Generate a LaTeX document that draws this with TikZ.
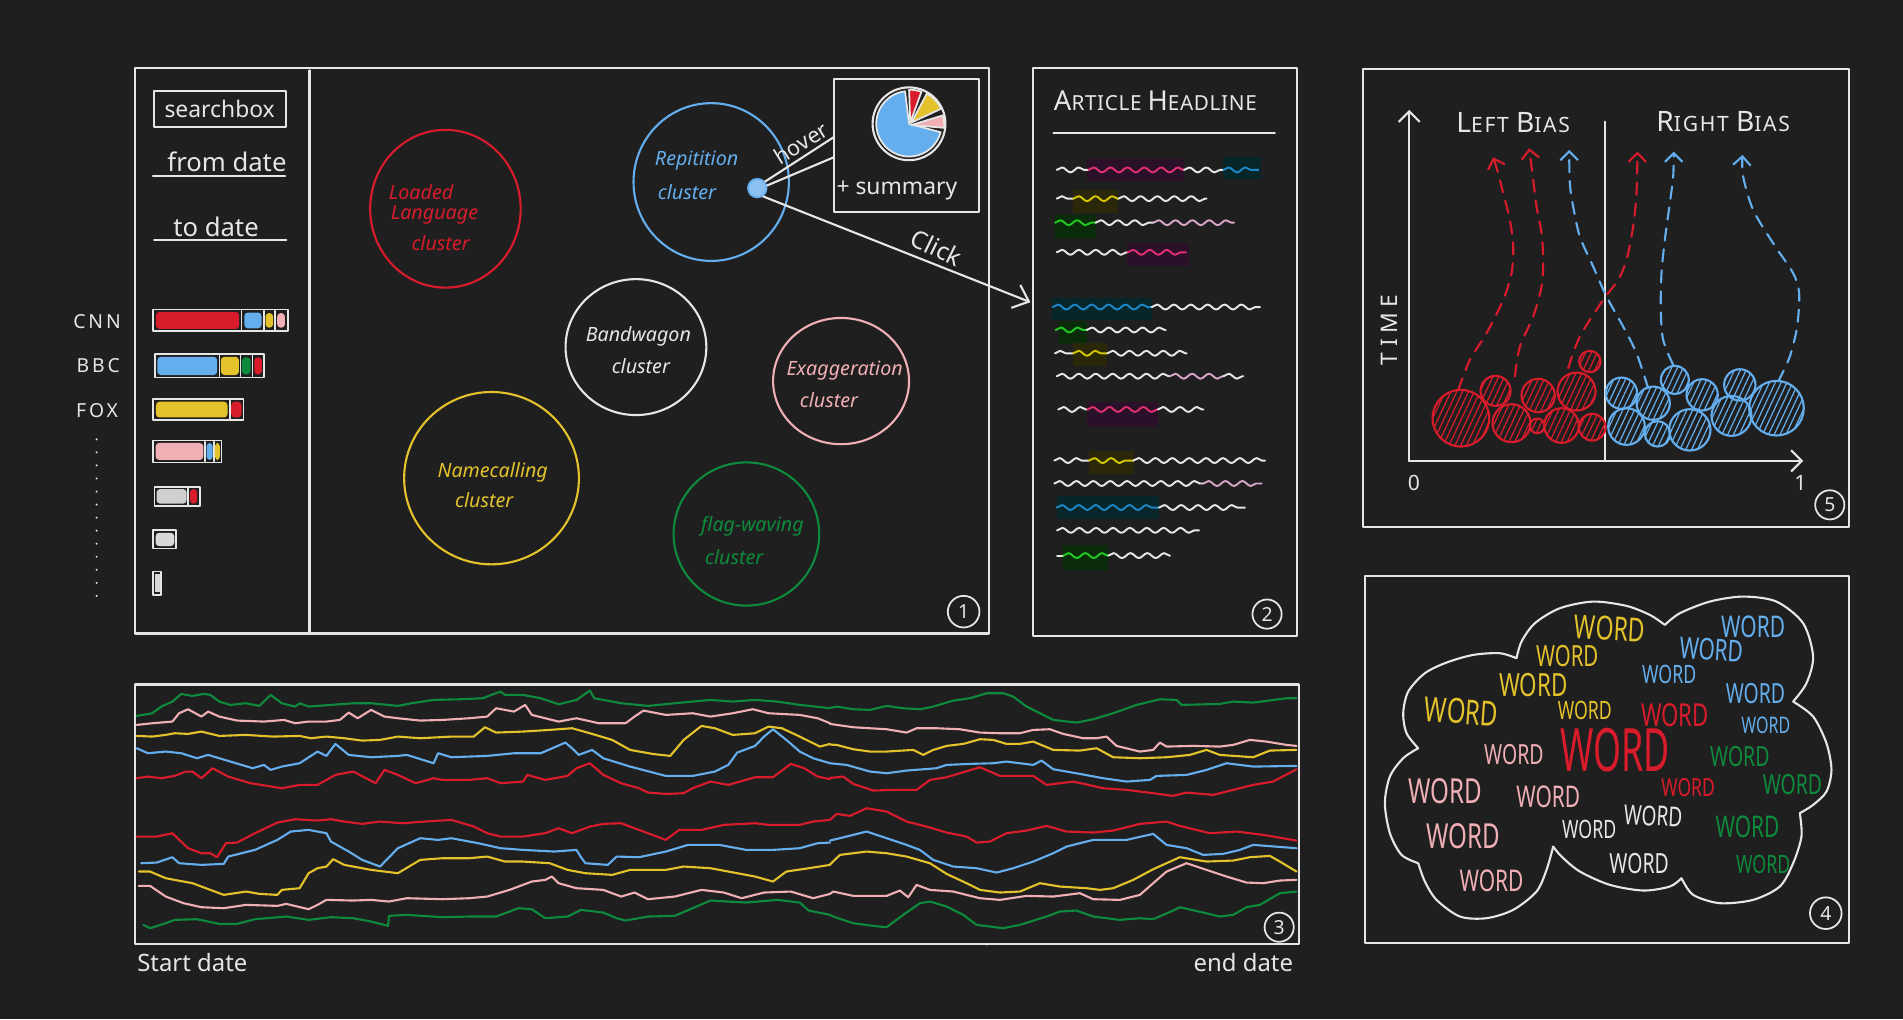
\documentclass[tikz,border=0pt]{standalone}
\usepackage{fontspec}
\setmainfont{Noto Sans}
\usepackage{graphicx}
\usetikzlibrary{arrows.meta,decorations.pathmorphing,patterns.meta}

\definecolor{bg}{HTML}{1F1F1F}
\definecolor{ink}{HTML}{E6E6E6}
\definecolor{cred}{HTML}{D91C2B}
\definecolor{cblue}{HTML}{64AEEE}
\definecolor{cyel}{HTML}{E3C22C}
\definecolor{cpink}{HTML}{F0AFB4}
\definecolor{cgreen}{HTML}{0E8A3C}
\definecolor{cgray}{HTML}{CFCFCF}
\definecolor{hlmag}{HTML}{E0306E}
\definecolor{boxmag}{HTML}{2A1028}
\definecolor{hlblue}{HTML}{1D86C6}
\definecolor{boxblue}{HTML}{062629}
\definecolor{hlyel}{HTML}{D4C600}
\definecolor{boxyel}{HTML}{2A2808}
\definecolor{hlgreen}{HTML}{22C922}
\definecolor{boxgreen}{HTML}{0A2C0A}
\definecolor{hlpink}{HTML}{D6A6C6}

\newcommand{\setsz}[1]{\fontsize{#1}{#1}\selectfont}
% one wavy text line segment: x1, x2, y, colour
\newcommand{\squigseg}[4]{\draw[squig,#4] (#1,#3) -- (#2,#3);}
% highlight rectangle behind a segment
\newcommand{\hlrect}[5]{\fill[#5] (#1,#2) rectangle (#3,#4);}
% a word of the cloud: name, x, y, size, colour, angle, squeeze
\newcommand{\cloudword}[7]{\node[inner sep=0pt, text=#5, rotate=#6] (#1) at (#2,#3) {\scalebox{#7}[1]{\setsz{#4}WORD}};}

\begin{document}
\begin{tikzpicture}[x=0.012137cm, y=-0.012137cm, line cap=round, line join=round,
  frame/.style={draw=ink, line width=0.6pt},
  ring/.style={line width=0.6pt},
  lbl/.style={inner sep=0pt, text=ink},
  clab/.style={inner sep=0pt, font=\setsz{5.6}\itshape},
  series/.style={line width=0.6pt},
  squig/.style={line width=0.55pt, decorate, decoration={snake, segment length=4.8pt, amplitude=0.7pt}},
  tag/.style={circle, draw=ink, line width=0.5pt, minimum size=8.3pt, inner sep=0pt, text=ink, font=\setsz{5.5}},
  barsep/.style={draw=ink, line width=0.45pt},
  hatchred/.style={draw=cred, line width=0.6pt, pattern={Lines[angle=65,distance=1.5pt,line width=0.35pt]}, pattern color=cred},
  hatchblue/.style={draw=cblue, line width=0.6pt, pattern={Lines[angle=65,distance=1.5pt,line width=0.35pt]}, pattern color=cblue},
  trail/.style={line width=0.6pt, dash pattern=on 3.5pt off 2.5pt, -{Straight Barb[length=2.5pt,width=5pt]}}]

\fill[bg] (0,0) rectangle (1568,840);
\useasboundingbox (0,0) rectangle (1568,840);

% ================= panel 1: filters, sources and clusters =================
\draw[frame] (111,56) rectangle (815,522);
\draw[frame] (255,58) -- (255,522);

\draw[frame] (127,75) rectangle (236,105);
\node[lbl, font=\setsz{6.5}] (search) at (181,90) {searchbox};
\node[lbl, font=\setsz{7.3}] (from) at (187,133) {from date};
\draw[frame] (126,145) -- (235,145);
\node[lbl, font=\setsz{7.3}] (to) at (178,187) {to date};
\draw[frame] (127,198) -- (236,198);

\node[lbl, font=\setsz{5.5}\addfontfeature{LetterSpace=15}] (cnn) at (80,265) {CNN};
\node[lbl, font=\setsz{5.5}\addfontfeature{LetterSpace=15}] (bbc) at (81,301) {BBC};
\node[lbl, font=\setsz{5.5}\addfontfeature{LetterSpace=15}] (fox) at (80,338) {FOX};
\foreach \i in {0,...,12} \fill[ink] (79.6,{362+\i*10.75}) circle[radius=0.9];

% stacked source bars
\draw[frame, line width=0.5pt] (126.3,255) rectangle (237,273);
\fill[cred, rounded corners=1pt] (128.5,257) rectangle (197.1,271);
\draw[barsep] (199.1,256) -- (199.1,272);
\fill[cblue, rounded corners=1pt] (201.3,257.5) rectangle (215.5,270.5);
\draw[barsep] (217.5,256) -- (217.5,272);
\fill[cyel, rounded corners=1pt] (218.8,258) rectangle (225.1,270);
\draw[barsep] (226.5,256) -- (226.5,272);
\fill[cpink, rounded corners=1pt] (228.4,258) rectangle (234.8,270);

\draw[frame, line width=0.5pt] (127.7,292) rectangle (217.5,311);
\fill[cblue, rounded corners=1pt] (129.6,294) rectangle (179,309);
\draw[barsep] (180.7,293) -- (180.7,310);
\fill[cyel, rounded corners=1pt] (182,294) rectangle (196.9,309);
\draw[barsep] (198.2,293) -- (198.2,310);
\fill[cgreen, rounded corners=1pt] (199.3,294.5) rectangle (206.5,308.5);
\draw[barsep] (208.1,293) -- (208.1,310);
\fill[cred, rounded corners=1pt] (209.5,294.5) rectangle (215.8,308.5);

\draw[frame, line width=0.5pt] (126.3,329) rectangle (200.7,346);
\fill[cyel, rounded corners=1pt] (128.5,331) rectangle (187.5,344);
\draw[barsep] (189.4,330) -- (189.4,345);
\fill[cred, rounded corners=1pt] (190.5,331) rectangle (199,344);

\draw[frame, line width=0.5pt] (126.3,363) rectangle (182.6,381);
\fill[cpink, rounded corners=1pt] (128.2,365) rectangle (167.5,379);
\draw[barsep] (168.9,364) -- (168.9,380);
\fill[cblue, rounded corners=1pt] (170.2,365) rectangle (175.2,379);
\draw[barsep] (176.3,364) -- (176.3,380);
\fill[cyel, rounded corners=1pt] (177.1,365) rectangle (181.2,379);

\draw[frame, line width=0.5pt] (127.4,401) rectangle (164.7,417);
\fill[cgray, rounded corners=1pt] (129,403) rectangle (153.8,415);
\draw[barsep] (155.1,402) -- (155.1,416);
\fill[cred, rounded corners=1pt] (156.5,403) rectangle (162.5,415);

\draw[frame, line width=0.5pt] (126.3,437) rectangle (145.2,452);
\fill[cgray!80, rounded corners=1pt] (128.2,439) rectangle (143.6,450);
\draw[frame, line width=0.5pt] (126.3,471) rectangle (132.9,490);
\fill[cgray!80] (127.6,473) rectangle (131.6,488);

% clusters
\draw[cred, ring] (367,172) ellipse[x radius=62, y radius=65];
\node[clab, text=cred] (ll1) at (347,158) {Loaded};
\node[clab, text=cred] (ll2) at (358,177) {Language};
\node[clab, text=cred] (ll3) at (363,200) {cluster};

\draw[cblue, ring] (586,150) ellipse[x radius=64, y radius=65];
\node[clab, text=cblue] (rp1) at (574,132) {Repitition};
\node[clab, text=cblue] (rp2) at (566,158) {cluster};

\draw[ink, ring] (524,286) ellipse[x radius=58, y radius=56];
\node[clab, text=ink] (bw1) at (526,277) {Bandwagon};
\node[clab, text=ink] (bw2) at (528,302) {cluster};

\draw[cpink, ring] (693,314) ellipse[x radius=56, y radius=52];
\node[clab, text=cpink] (ex1) at (696,305) {Exaggeration};
\node[clab, text=cpink] (ex2) at (683,330) {cluster};

\draw[cyel, ring] (405,394) ellipse[x radius=72, y radius=71];
\node[clab, text=cyel] (nc1) at (406,389) {Namecalling};
\node[clab, text=cyel] (nc2) at (399,412) {cluster};

\draw[cgreen, ring] (615,440) ellipse[x radius=60, y radius=59];
\node[clab, text=cgreen] (fw1) at (620,434) {flag-waving};
\node[clab, text=cgreen] (fw2) at (605,459) {cluster};

% hover card with pie chart
\draw[frame] (687,65) rectangle (807,175);
\draw[ink, line width=0.6pt] (749,102) circle[radius=30];
\fill[cblue, draw=ink, line width=0.5pt] (749,102) -- ++(-97:27) arc[start angle=-97, end angle=-345, radius=27] -- cycle;
\fill[cred, draw=ink, line width=0.5pt] (750,101) -- ++(-70:27) arc[start angle=-70, end angle=-92, radius=27] -- cycle;
\fill[cyel, draw=ink, line width=0.5pt] (751,101) -- ++(-25:27) arc[start angle=-25, end angle=-62, radius=27] -- cycle;
\fill[cpink, draw=ink, line width=0.5pt] (751,103) -- ++(5:27) arc[start angle=5, end angle=-17, radius=27] -- cycle;
\node[lbl, font=\setsz{6.5}] (summary) at (739,157) {+ summary};

\node[circle, draw=cblue, fill=cblue!75, line width=0.5pt, minimum size=5.3pt, inner sep=0pt] (dot) at (624,155) {};
\draw[frame] (dot.40) -- (687,113);
\draw[frame] (dot.15) -- (687,129.6);
\node[lbl, rotate=32, font=\setsz{6.2}] (hover) at (660,118) {hover};

\coordinate (clickend) at (849,249);
\draw[frame, -{Straight Barb[length=4pt,width=7pt]}] (dot.-55) -- (clickend);
\node[lbl, rotate=-26, font=\setsz{7}] (click) at (772,204) {Click};

\node[tag, minimum size=9pt] (t1) at (794,504) {1};

% ================= panel 2: article view =================
\draw[frame] (851,56) rectangle (1069,524);
\node[lbl, font=\addfontfeature{LetterSpace=3}] (headline) at (952,83)
  {\setsz{7.8}A\setsz{5.9}RTICLE \setsz{7.8}H\setsz{5.9}EADLINE};
\draw[frame] (868,109.5) -- (1050.5,109.5);

\hlrect{896}{130.8}{975.6}{149.4}{boxmag}
\hlrect{1008}{129}{1039}{147.5}{boxblue}
\hlrect{884}{156.7}{921.5}{175.3}{boxyel}
\hlrect{869}{177.4}{903}{195.7}{boxgreen}
\hlrect{929}{200}{979.4}{219.2}{boxmag}
\hlrect{867}{245.4}{949}{264}{boxblue}
\hlrect{872.6}{264.9}{895.4}{283.5}{boxgreen}
\hlrect{884.4}{282.9}{912.4}{301.8}{boxyel}
\hlrect{896}{331.3}{954}{352}{boxmag}
\hlrect{897}{371.9}{934}{390.2}{boxyel}
\hlrect{870.7}{409}{955}{427.4}{boxblue}
\hlrect{876}{449.3}{913}{469.4}{boxgreen}

\squigseg{870.7}{896.8}{140}{ink}
\squigseg{896.8}{975.6}{140}{hlmag}
\squigseg{975.6}{1008}{140}{ink}
\squigseg{1008}{1037}{140}{hlblue}
\squigseg{870.7}{884.4}{163.7}{ink}
\squigseg{884.4}{921.5}{163.7}{hlyel}
\squigseg{921.5}{994.2}{163.7}{ink}
\squigseg{869.3}{902.8}{183.5}{hlgreen}
\squigseg{902.8}{950.3}{183.5}{ink}
\squigseg{950.3}{1016.8}{183.5}{hlpink}
\squigseg{870.7}{929.2}{207.9}{ink}
\squigseg{929.2}{977.2}{207.9}{hlmag}
\squigseg{867.4}{949}{253}{hlblue}
\squigseg{949}{1038.2}{253}{ink}
\squigseg{869.8}{895.4}{271.9}{hlgreen}
\squigseg{895.4}{960.5}{271.9}{ink}
\squigseg{869.3}{884.4}{291.1}{ink}
\squigseg{884.4}{912.4}{291.1}{hlyel}
\squigseg{912.4}{977.8}{291.1}{ink}
\squigseg{870.7}{964}{310}{ink}
\squigseg{964}{1008}{310}{hlpink}
\squigseg{1008}{1024.4}{310}{ink}
\squigseg{872}{896}{337.4}{ink}
\squigseg{896}{954}{337.4}{hlmag}
\squigseg{954}{991.5}{337.4}{ink}
\squigseg{868.7}{897.3}{379.5}{ink}
\squigseg{897.3}{933.8}{379.5}{hlyel}
\squigseg{933.8}{1042.3}{379.5}{ink}
\squigseg{868.7}{991.5}{398.4}{ink}
\squigseg{991.5}{1039.5}{398.4}{hlpink}
\squigseg{870.7}{955}{418.2}{hlblue}
\squigseg{955}{1025.8}{418.2}{ink}
\squigseg{871}{988}{437}{ink}
\squigseg{871}{876}{457.8}{ink}
\squigseg{876}{913.2}{457.8}{hlgreen}
\squigseg{913.2}{964}{457.8}{ink}

\node[tag] (t2) at (1044,506) {2};

% ================= panel 3: time series =================
\draw[frame] (111,564) rectangle (1070,778);
\fill[ink] (813,564) circle[radius=1.2];
\fill[ink] (813,778) circle[radius=1.2];
\node[lbl, font=\setsz{6.8}] (startd) at (158.5,793) {Start date};
\node[lbl, font=\setsz{6.8}] (endd) at (1024.5,793) {end date};
\node[tag] (t3) at (1054,764) {3};

\begin{scope}[shift={(107.1,552)}, xscale=0.3679, yscale=0.2746]
\draw[series, cgreen] plot coordinates {(15,138) (50,130) (70,110) (95,95) (115,72) (140,78) (165,72) (180,75) (200,95) (225,105) (260,100) (290,108) (315,75) (340,100) (370,110) (380,100) (400,110) (450,105) (500,100) (540,100) (600,108) (630,100) (680,90) (740,88) (790,85) (815,72) (830,65) (840,75) (880,75) (920,85) (960,103) (1000,90) (1030,62) (1040,85) (1100,100) (1160,108) (1220,100) (1300,90) (1350,95) (1400,90) (1450,95) (1500,105) (1568,115)};
\draw[series, cpink] plot coordinates {(15,165) (50,160) (95,155) (110,130) (130,118) (160,140) (175,125) (200,140) (240,152) (300,155) (345,150) (370,160) (400,155) (440,155) (470,150) (490,128) (510,145) (540,120) (570,140) (600,145) (650,152) (700,150) (760,145) (800,140) (820,115) (860,125) (885,105) (900,135) (960,155) (1000,145) (1050,160) (1110,160) (1130,140) (1150,122) (1200,135) (1260,130) (1300,140) (1350,130) (1395,118) (1430,130) (1500,135) (1540,145) (1568,160)};
\draw[series, cyel] plot coordinates {(15,198) (50,200) (80,195) (100,190) (130,192) (160,185) (200,198) (260,195) (320,200) (380,198) (405,205) (440,200) (480,205) (520,212) (560,210) (600,200) (650,205) (720,200) (770,200) (795,172) (820,188) (880,185) (940,180) (990,175) (1030,190) (1080,210) (1120,240) (1170,252) (1210,258) (1240,210) (1280,168) (1310,175) (1350,195) (1400,190) (1430,170) (1460,175) (1500,200) (1545,230) (1568,222)};
\draw[series, cblue] plot coordinates {(15,235) (40,250) (80,245) (115,250) (150,265) (175,255) (200,265) (250,285) (275,295) (300,285) (315,300) (340,290) (380,280) (420,245) (440,258) (460,222) (490,255) (540,262) (600,258) (620,255) (680,280) (690,250) (720,262) (800,258) (860,250) (920,250) (975,218) (990,235) (1005,255) (1035,240) (1060,265) (1120,290) (1200,318) (1260,318) (1310,305) (1340,285) (1360,248) (1400,228) (1420,200) (1440,178) (1470,210) (1500,245) (1530,265) (1568,280)};
\draw[series, cred] plot coordinates {(15,325) (40,320) (70,325) (100,318) (125,305) (140,305) (160,325) (185,295) (220,320) (270,340) (340,355) (380,345) (420,345) (460,315) (500,305) (550,340) (570,300) (600,315) (640,340) (680,325) (700,330) (760,330) (800,325) (830,340) (880,335) (890,315) (930,330) (980,318) (1000,295) (1030,280) (1060,315) (1100,340) (1140,355) (1160,368) (1200,372) (1240,370) (1260,355) (1300,335) (1340,345) (1400,322) (1440,322) (1480,282) (1510,295) (1540,320) (1568,328)};
\draw[series, cred] plot coordinates {(15,500) (60,500) (95,490) (130,535) (160,550) (180,550) (195,562) (215,520) (240,518) (280,490) (330,458) (370,448) (420,452) (450,448) (480,455) (520,462) (560,455) (610,460) (660,455) (720,450) (770,470) (800,490) (830,500) (880,500) (930,490) (960,475) (990,490) (1030,470) (1060,462) (1100,460) (1160,490) (1200,510) (1230,480) (1280,480) (1330,465) (1400,460) (1430,465) (1500,465) (1530,455) (1568,450)};
\draw[series, cblue] plot coordinates {(25,580) (60,578) (95,562) (110,580) (160,585) (210,582) (220,560) (280,540) (330,510) (360,485) (400,480) (440,490) (450,515) (490,545) (520,570) (560,590) (600,535) (650,505) (690,510) (720,505) (780,520) (830,535) (880,540) (950,545) (1000,540) (1010,562) (1020,580) (1070,585) (1090,560) (1140,562) (1200,545) (1250,525) (1320,525) (1380,540) (1440,540) (1500,535) (1540,520) (1568,518)};
\draw[series, cyel] plot coordinates {(20,605) (45,605) (80,625) (140,640) (180,660) (210,675) (260,665) (290,672) (330,675) (340,660) (380,655) (400,610) (420,595) (440,590) (455,568) (480,585) (540,600) (600,610) (650,570) (700,565) (760,565) (800,560) (840,575) (880,575) (940,580) (980,600) (1020,610) (1080,615) (1120,600) (1200,600) (1240,590) (1300,595) (1360,610) (1400,620) (1440,635) (1470,605) (1520,595) (1568,585)};
\draw[series, cpink] plot coordinates {(20,648) (45,648) (80,680) (120,700) (160,712) (210,715) (260,705) (330,708) (350,702) (400,718) (420,705) (440,690) (500,692) (540,690) (580,695) (620,685) (700,688) (760,685) (800,680) (850,660) (900,635) (930,630) (945,620) (960,640) (1000,655) (1060,660) (1100,680) (1130,668) (1160,688) (1220,680) (1280,660) (1330,668) (1370,685) (1420,668) (1480,665) (1530,685) (1568,672)};
\draw[series, cgreen] plot coordinates {(30,765) (45,775) (80,760) (100,750) (150,748) (200,762) (240,762) (280,748) (350,740) (400,750) (450,742) (500,745) (540,755) (578,768) (580,738) (620,735) (700,742) (760,740) (820,740) (870,715) (900,718) (930,745) (980,740) (1010,720) (1060,728) (1090,745) (1110,752) (1160,740) (1220,738) (1300,692) (1380,698) (1450,690) (1500,698) (1520,722) (1568,735)};
\end{scope}

\begin{scope}[shift={(675.6,552)}, xscale=0.2746, yscale=0.2746]
\draw[series, cgreen] plot coordinates {(30,114) (50,110) (100,118) (150,120) (200,108) (250,115) (300,118) (340,110) (400,92) (450,85) (500,70) (550,70) (580,80) (620,110) (700,150) (770,158) (820,148) (880,130) (950,105) (1020,88) (1070,90) (1085,105) (1200,102) (1240,95) (1300,98) (1400,85) (1430,85)};
\draw[series, cpink] plot coordinates {(30,162) (100,172) (200,178) (260,188) (290,175) (350,175) (420,178) (480,188) (540,190) (600,190) (640,180) (690,178) (730,192) (790,205) (830,205) (860,200) (890,228) (960,245) (1000,240) (1020,218) (1040,230) (1120,228) (1200,230) (1240,225) (1290,210) (1340,215) (1400,225) (1430,228)};
\draw[series, cyel] plot coordinates {(30,224) (50,225) (100,238) (150,245) (200,245) (280,240) (310,255) (340,240) (380,228) (430,222) (480,208) (520,210) (560,222) (600,222) (640,215) (700,240) (780,242) (830,235) (880,262) (960,265) (1040,262) (1110,255) (1160,240) (1200,255) (1300,262) (1350,242) (1430,240)};
\draw[series, cblue] plot coordinates {(30,280) (80,285) (150,305) (200,310) (260,302) (350,295) (380,285) (450,282) (520,280) (560,275) (640,285) (665,272) (700,298) (780,312) (850,325) (920,335) (990,330) (1010,318) (1100,315) (1160,300) (1220,280) (1300,290) (1430,288)};
\draw[series, cred] plot coordinates {(30,324) (70,320) (100,342) (160,362) (210,360) (290,360) (330,330) (380,322) (480,292) (540,318) (600,318) (640,318) (680,345) (760,335) (850,355) (920,360) (1000,370) (1060,378) (1100,368) (1180,375) (1240,360) (1300,345) (1360,335) (1430,298)};
\draw[series, cred] plot coordinates {(30,450) (50,432) (90,438) (140,415) (200,425) (260,455) (320,470) (380,488) (440,500) (470,518) (510,515) (560,490) (620,482) (680,468) (740,485) (820,488) (880,482) (960,462) (1040,455) (1080,468) (1170,490) (1250,485) (1330,495) (1430,512)};
\draw[series, cblue] plot coordinates {(30,512) (60,505) (140,485) (200,505) (260,525) (300,540) (340,570) (400,590) (470,595) (530,608) (580,595) (640,575) (700,550) (740,530) (820,510) (920,510) (1000,492) (1040,525) (1100,535) (1150,555) (1210,552) (1260,540) (1300,525) (1430,535)};
\draw[series, cyel] plot coordinates {(30,584) (60,555) (140,545) (200,550) (260,560) (330,580) (380,612) (440,640) (480,660) (540,668) (600,665) (660,640) (720,650) (800,655) (840,660) (880,655) (940,630) (1000,598) (1080,562) (1160,575) (1240,572) (1290,562) (1350,558) (1380,575) (1430,605)};
\draw[series, cpink] plot coordinates {(30,672) (40,665) (100,678) (200,678) (240,662) (265,682) (290,645) (330,660) (400,665) (480,685) (540,690) (620,678) (700,680) (780,670) (820,688) (900,690) (960,675) (1040,605) (1100,580) (1160,600) (1220,620) (1280,638) (1330,640) (1380,632) (1430,630)};
\draw[series, cgreen] plot coordinates {(30,735) (40,740) (100,760) (160,768) (200,772) (250,735) (300,700) (330,695) (380,710) (430,735) (470,765) (550,775) (600,765) (680,740) (720,725) (770,722) (820,740) (900,750) (960,745) (1000,748) (1060,722) (1080,712) (1150,728) (1200,740) (1240,735) (1280,712) (1320,705) (1380,670) (1430,665)};
\end{scope}

% ================= panel 5: bias drift =================
\draw[frame] (1123.2,57.1) rectangle (1523.3,433.9);
\begin{scope}[shift={(1120.5,49.4)}, scale=0.2746]
\coordinate (origin) at (148,1203);
\coordinate (ytop) at (148,150);
\coordinate (xend) at (1330,1203);
\draw[frame, -{Straight Barb[length=3pt,width=6pt]}] (origin) -- (ytop);
\draw[frame, -{Straight Barb[length=3pt,width=6pt]}] (origin) -- (xend);
\draw[frame] (735,185) -- (735,1203);

\node[lbl, font=\addfontfeature{LetterSpace=8}] (leftb) at (460,188) {\setsz{8}L\setsz{6}EFT \setsz{8}B\setsz{6}IAS};
\node[lbl, font=\addfontfeature{LetterSpace=8}] (rightb) at (1090,185) {\setsz{8}R\setsz{6}IGHT \setsz{8}B\setsz{6}IAS};
\node[lbl, rotate=90, font=\setsz{6.5}\addfontfeature{LetterSpace=25}] (time) at (88,810) {TIME};
\node[lbl, font=\setsz{6}] (zero) at (162,1268) {0};
\node[lbl, font=\setsz{6}] (one) at (1322,1270) {1};
\node[tag] (t5) at (1410,1335) {5};

\foreach \cx/\cy/\r in {303/1075/85, 407/993/45, 455/1090/57, 535/1007/50, 532/1098/22, 605/1097/52, 650/995/57, 690/905/32, 697/1102/40}
  \draw[hatchred] (\cx,\cy) circle[radius=\r];
\foreach \cx/\cy/\r in {785/1000/47, 800/1100/55, 880/1030/50, 893/1122/38, 945/960/42, 990/1110/62, 1027/1005/47, 1115/1068/60, 1140/975/47, 1250/1045/82}
  \draw[hatchblue] (\cx,\cy) circle[radius=\r];

\draw[trail, cred] plot[smooth] coordinates {(295,990) (330,900) (380,820) (430,720) (455,640) (460,560) (450,480) (430,400) (415,340) (400,292)};
\draw[trail, cred] plot[smooth] coordinates {(465,950) (480,860) (520,770) (545,680) (550,600) (545,520) (530,440) (520,360) (508,265)};
\draw[trail, cred] plot[smooth] coordinates {(625,925) (660,830) (730,720) (775,660) (800,600) (820,500) (830,400) (833,275)};
\draw[trail, cblue] plot[smooth] coordinates {(865,985) (830,880) (790,800) (740,710) (700,620) (660,530) (640,440) (630,370) (628,270)};
\draw[trail, cblue] plot[smooth] coordinates {(940,915) (910,840) (903,750) (905,640) (915,540) (930,430) (940,350) (942,275)};
\draw[trail, cblue] plot[smooth] coordinates {(1255,965) (1290,890) (1312,800) (1318,700) (1300,640) (1240,550) (1180,450) (1150,350) (1148,285)};
\end{scope}

% ================= panel 4: word cloud =================
\draw[frame] (1124.6,474.5) rectangle (1523.3,777.2);
\begin{scope}[shift={(1120.5,469.6)}, scale=0.2746]
\draw[frame]
  plot[smooth] coordinates {(470,265) (485,215) (525,160) (600,115) (700,95) (800,108) (870,135) (915,165)}
  plot[smooth] coordinates {(915,165) (960,130) (1050,95) (1150,80) (1250,95) (1330,160) (1360,260) (1340,340) (1300,395)}
  plot[smooth] coordinates {(1300,395) (1360,440) (1400,520) (1415,600) (1400,665) (1360,705) (1320,730)}
  plot[smooth] coordinates {(1320,730) (1325,800) (1300,880) (1260,950) (1180,990) (1080,1000) (1000,975) (965,925)}
  plot[smooth] coordinates {(965,925) (930,950) (850,962) (750,945) (660,905) (605,860) (580,830)}
  plot[smooth] coordinates {(580,830) (560,900) (530,965) (460,1020) (380,1045) (300,1040) (230,990) (195,935) (175,880)}
  plot[smooth] coordinates {(175,880) (125,855) (90,790) (75,700) (90,620) (130,565) (175,535)}
  plot[smooth] coordinates {(175,535) (140,490) (130,430) (145,365) (195,310) (260,278) (340,255) (420,250) (470,265)};

\cloudword{w1}{750}{176}{9.4}{cyel}{-3}{0.7}
\cloudword{w2}{622}{258}{8.3}{cyel}{0}{0.7}
\cloudword{w3}{520}{346}{9.1}{cyel}{0}{0.7}
\cloudword{w4}{305}{425}{9.8}{cyel}{-4}{0.7}
\cloudword{w5}{675}{422}{7.2}{cyel}{0}{0.7}
\cloudword{w6}{1180}{170}{8.5}{cblue}{0}{0.7}
\cloudword{w7}{1055}{240}{8.5}{cblue}{-3}{0.7}
\cloudword{w8}{928}{315}{7.2}{cblue}{0}{0.7}
\cloudword{w9}{1187}{370}{7.9}{cblue}{0}{0.7}
\cloudword{w10}{1218}{465}{6.5}{cblue}{0}{0.7}
\cloudword{w11}{945}{435}{9}{cred}{0}{0.7}
\cloudword{w12}{765}{542}{17}{cred}{0}{0.6}
\cloudword{w13}{462}{555}{7.9}{cpink}{0}{0.7}
\cloudword{w14}{1140}{560}{7.9}{cgreen}{0}{0.7}
\cloudword{w15}{985}{652}{7.1}{cred}{0}{0.7}
\cloudword{w16}{1298}{645}{7.9}{cgreen}{0}{0.7}
\cloudword{w17}{255}{665}{9.8}{cpink}{0}{0.7}
\cloudword{w18}{565}{680}{8.5}{cpink}{0}{0.7}
\cloudword{w19}{880}{738}{7.8}{ink}{-3}{0.7}
\cloudword{w20}{688}{780}{7.2}{ink}{0}{0.7}
\cloudword{w21}{1163}{770}{8.5}{cgreen}{0}{0.7}
\cloudword{w22}{310}{800}{9.8}{cpink}{0}{0.7}
\cloudword{w23}{838}{880}{7.9}{ink}{0}{0.7}
\cloudword{w24}{1210}{885}{7.2}{cgreen}{0}{0.7}
\cloudword{w25}{395}{932}{8.5}{cpink}{0}{0.7}

\node[tag, minimum size=9pt] (t4) at (1398,1030) {4};
\end{scope}

\end{tikzpicture}
\end{document}
